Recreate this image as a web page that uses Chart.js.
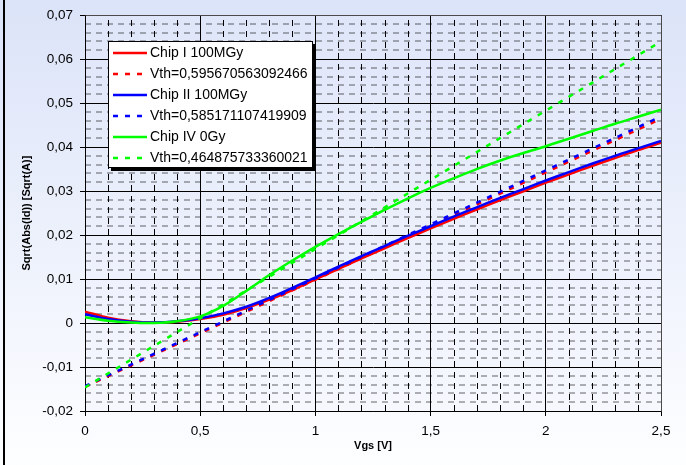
<!DOCTYPE html>
<html>
<head>
<meta charset="utf-8">
<script src="https://cdn.jsdelivr.net/npm/chart.js@4/dist/chart.umd.min.js"></script>
<style>
  html, body { margin: 0; padding: 0; background: #ffffff; }
  #wrap { width: 686px; height: 465px; position: relative; }
</style>
</head>
<body>
<div id="wrap"><canvas id="c" width="686" height="465"></canvas></div>
<script>
// Gate voltage samples (V)
const vgs = [0, 0.1, 0.2, 0.3, 0.4, 0.5, 0.6, 0.7, 0.8, 0.9, 1.0, 1.1, 1.2, 1.3, 1.4, 1.5, 1.6, 1.7, 1.8, 1.9, 2.0, 2.1, 2.2, 2.3, 2.4, 2.5];

// sqrt(|Id|) per chip, sqrt(A)
const chipI = [0.0026, 0.0012, 0.0004, 0.0001, 0.0003, 0.0009, 0.0019, 0.0034, 0.0053, 0.0075, 0.0099, 0.0123, 0.0147, 0.0170, 0.0193, 0.0215, 0.0237, 0.0258, 0.0279, 0.0299, 0.0319, 0.0338, 0.0357, 0.0375, 0.0393, 0.0410];
const chipII = [0.0020, 0.0009, 0.0003, 0.0001, 0.0004, 0.0011, 0.0022, 0.0037, 0.0057, 0.0080, 0.0104, 0.0128, 0.0152, 0.0175, 0.0198, 0.0220, 0.0242, 0.0263, 0.0284, 0.0304, 0.0324, 0.0343, 0.0362, 0.0380, 0.0397, 0.0414];
const chipIV = [0.0013, 0.0005, 0.0001, 0.0000, 0.0004, 0.0015, 0.0039, 0.0073, 0.0109, 0.0142, 0.0173, 0.0202, 0.0230, 0.0257, 0.0283, 0.0307, 0.0329, 0.0350, 0.0369, 0.0386, 0.0402, 0.0419, 0.0436, 0.0453, 0.0469, 0.0485];

// Threshold voltages from the linear fits
const vthI = 0.595670563092466;
const vthII = 0.585171107419909;
const vthIV = 0.464875733360021;

// Fit lines: points at Vgs = 0, Vgs = Vth (zero crossing) and Vgs = 2.5
const fitIx = [0, vthI, 2.5];
const fitIy = [-0.01452, 0, 0.04643];
const fitIIx = [0, vthII, 2.5];
const fitIIy = [-0.01435, 0, 0.04697];
const fitIVx = [0, vthIV, 2.5];
const fitIVy = [-0.01462, 0, 0.06400];

// Axis ticks
const xTicks = [0, 0.5, 1, 1.5, 2, 2.5];
const yTicks = [-0.02, -0.01, 0, 0.01, 0.02, 0.03, 0.04, 0.05, 0.06, 0.07];

const labelI = 'Chip I 100MGy';
const labelII = 'Chip II 100MGy';
const labelIV = 'Chip IV 0Gy';
const vthLabel = v => 'Vth=' + String(v).replace('.', ',');

const pts = (xs, ys) => xs.map((x, i) => ({ x: x, y: ys[i] }));
const fmt = v => {
  const n = Number(v.toFixed(3));
  return n === 0 ? '0' : String(n).replace('.', ',');
};

const FONT = '"Liberation Sans", Arial, sans-serif';
const DASH = [5, 7];

const solid = (label, xs, ys, color, order) => ({
  label, data: pts(xs, ys), borderColor: color, backgroundColor: color,
  borderWidth: 2.5, pointRadius: 0, tension: 0.35, fill: false, order
});
const dashed = (label, xs, ys, color, order) => ({
  label, data: pts(xs, ys), borderColor: color, backgroundColor: color,
  borderWidth: 2.5, borderDash: DASH, pointRadius: 0, tension: 0, fill: false, order
});

// Page and plot-area backgrounds, left frame line
const backgroundPlugin = {
  id: 'backgrounds',
  beforeDraw(chart) {
    const { ctx, chartArea: a, width, height } = chart;
    ctx.save();
    let g = ctx.createLinearGradient(0, 0, 0, height);
    g.addColorStop(0, '#dbe3f8');
    g.addColorStop(1, '#fdfeff');
    ctx.fillStyle = g;
    ctx.fillRect(0, 0, width, height);
    g = ctx.createLinearGradient(0, a.top, 0, a.bottom);
    g.addColorStop(0, '#dfe6f9');
    g.addColorStop(1, '#f6f8fe');
    ctx.fillStyle = g;
    ctx.fillRect(a.left, a.top, a.right - a.left, a.bottom - a.top);
    ctx.fillStyle = '#000';
    ctx.fillRect(3, 0, 2, height);
    ctx.restore();
  }
};

// Dashed minor grid between the major ticks, plus the plot frame
const minorGridPlugin = {
  id: 'minorGrid',
  beforeDatasetsDraw(chart) {
    const { ctx, chartArea: a, scales: { x, y } } = chart;
    ctx.save();
    ctx.lineWidth = 1;
    ctx.setLineDash([6, 5]);
    ctx.strokeStyle = '#000';
    for (let i = 1; i < 25; i++) {
      if (i % 5 === 0) continue;
      const px = Math.round(x.getPixelForValue(i * 0.1)) + 0.5;
      ctx.beginPath();
      ctx.moveTo(px, a.bottom);
      ctx.lineTo(px, a.top);
      ctx.stroke();
    }
    ctx.strokeStyle = 'rgba(0,0,0,0.6)';
    for (let j = -9; j < 35; j++) {
      if (j % 5 === 0) continue;
      const py = Math.round(y.getPixelForValue(j * 0.002));
      ctx.beginPath();
      ctx.moveTo(a.left, py);
      ctx.lineTo(a.right, py);
      ctx.stroke();
    }
    ctx.setLineDash([]);
    ctx.strokeStyle = '#4a4a4a';
    ctx.beginPath();
    ctx.moveTo(Math.round(a.left) + 0.5, Math.round(a.top) + 0.5);
    ctx.lineTo(Math.round(a.right) + 0.5, Math.round(a.top) + 0.5);
    ctx.lineTo(Math.round(a.right) + 0.5, Math.round(a.bottom) + 0.5);
    ctx.stroke();
    ctx.restore();
  }
};

// Boxed legend with drop shadow inside the plot
const legendPlugin = {
  id: 'boxLegend',
  afterDraw(chart) {
    const { ctx } = chart;
    const order = [0, 1, 2, 3, 4, 5];
    const left = 108, top = 41, w = 205, h = 127, rowH = 21;
    ctx.save();
    ctx.fillStyle = '#000';
    ctx.fillRect(left + 3, top + 3, w, h);
    ctx.fillStyle = '#fff';
    ctx.fillRect(left, top, w, h);
    ctx.strokeStyle = '#000';
    ctx.lineWidth = 1;
    ctx.strokeRect(left + 0.5, top + 0.5, w - 1, h - 1);
    ctx.font = '14px ' + FONT;
    ctx.textBaseline = 'middle';
    order.forEach((di, r) => {
      const ds = chart.data.datasets[di];
      const cy = top + 12 + r * rowH;
      ctx.strokeStyle = ds.borderColor;
      ctx.lineWidth = 2.5;
      ctx.setLineDash(ds.borderDash || []);
      ctx.beginPath();
      ctx.moveTo(113, cy);
      ctx.lineTo(147, cy);
      ctx.stroke();
      ctx.setLineDash([]);
      ctx.fillStyle = '#000';
      ctx.fillText(ds.label, 150, cy + 0.5);
    });
    ctx.restore();
  }
};

new Chart(document.getElementById('c'), {
  type: 'line',
  data: {
    datasets: [
      solid(labelI, vgs, chipI, '#ff0000', 6),
      dashed(vthLabel(vthI), fitIx, fitIy, '#ff0000', 5),
      solid(labelII, vgs, chipII, '#0000ff', 3),
      dashed(vthLabel(vthII), fitIIx, fitIIy, '#0000ff', 4),
      solid(labelIV, vgs, chipIV, '#00ff00', 1),
      dashed(vthLabel(vthIV), fitIVx, fitIVy, '#00ff00', 2)
    ]
  },
  options: {
    responsive: false,
    animation: false,
    devicePixelRatio: 1,
    layout: { padding: { left: 16, top: 15, right: 25, bottom: 8 } },
    plugins: { legend: { display: false }, tooltip: { enabled: false } },
    scales: {
      x: {
        type: 'linear', min: 0, max: 2.5,
        afterBuildTicks: s => { s.ticks = xTicks.map(v => ({ value: v })); },
        afterFit: s => { s.height = 46; },
        ticks: { callback: v => fmt(v), color: '#000', font: { family: FONT, size: 13.5 }, padding: 7, maxRotation: 0 },
        grid: { color: '#000', lineWidth: 1, tickLength: 5, tickColor: '#000' },
        border: { color: '#000', width: 1 },
        title: { display: true, text: 'Vgs [V]', color: '#000', font: { family: FONT, size: 11, weight: 'bold' }, padding: { top: 4, bottom: 4 } }
      },
      y: {
        type: 'linear', min: -0.02, max: 0.07,
        afterBuildTicks: s => { s.ticks = yTicks.map(v => ({ value: v })); },
        afterFit: s => { s.width = 69; },
        ticks: { callback: v => fmt(v), color: '#000', font: { family: FONT, size: 13.5 }, padding: 7 },
        grid: { color: '#000', lineWidth: 1, tickLength: 5, tickColor: '#000' },
        border: { color: '#000', width: 1 },
        title: { display: true, text: 'Sqrt(Abs(Id)) [Sqrt(A)]', color: '#000', font: { family: FONT, size: 11, weight: 'bold' }, padding: { top: 4, bottom: 4 } }
      }
    }
  },
  plugins: [backgroundPlugin, minorGridPlugin, legendPlugin]
});
</script>
</body>
</html>
